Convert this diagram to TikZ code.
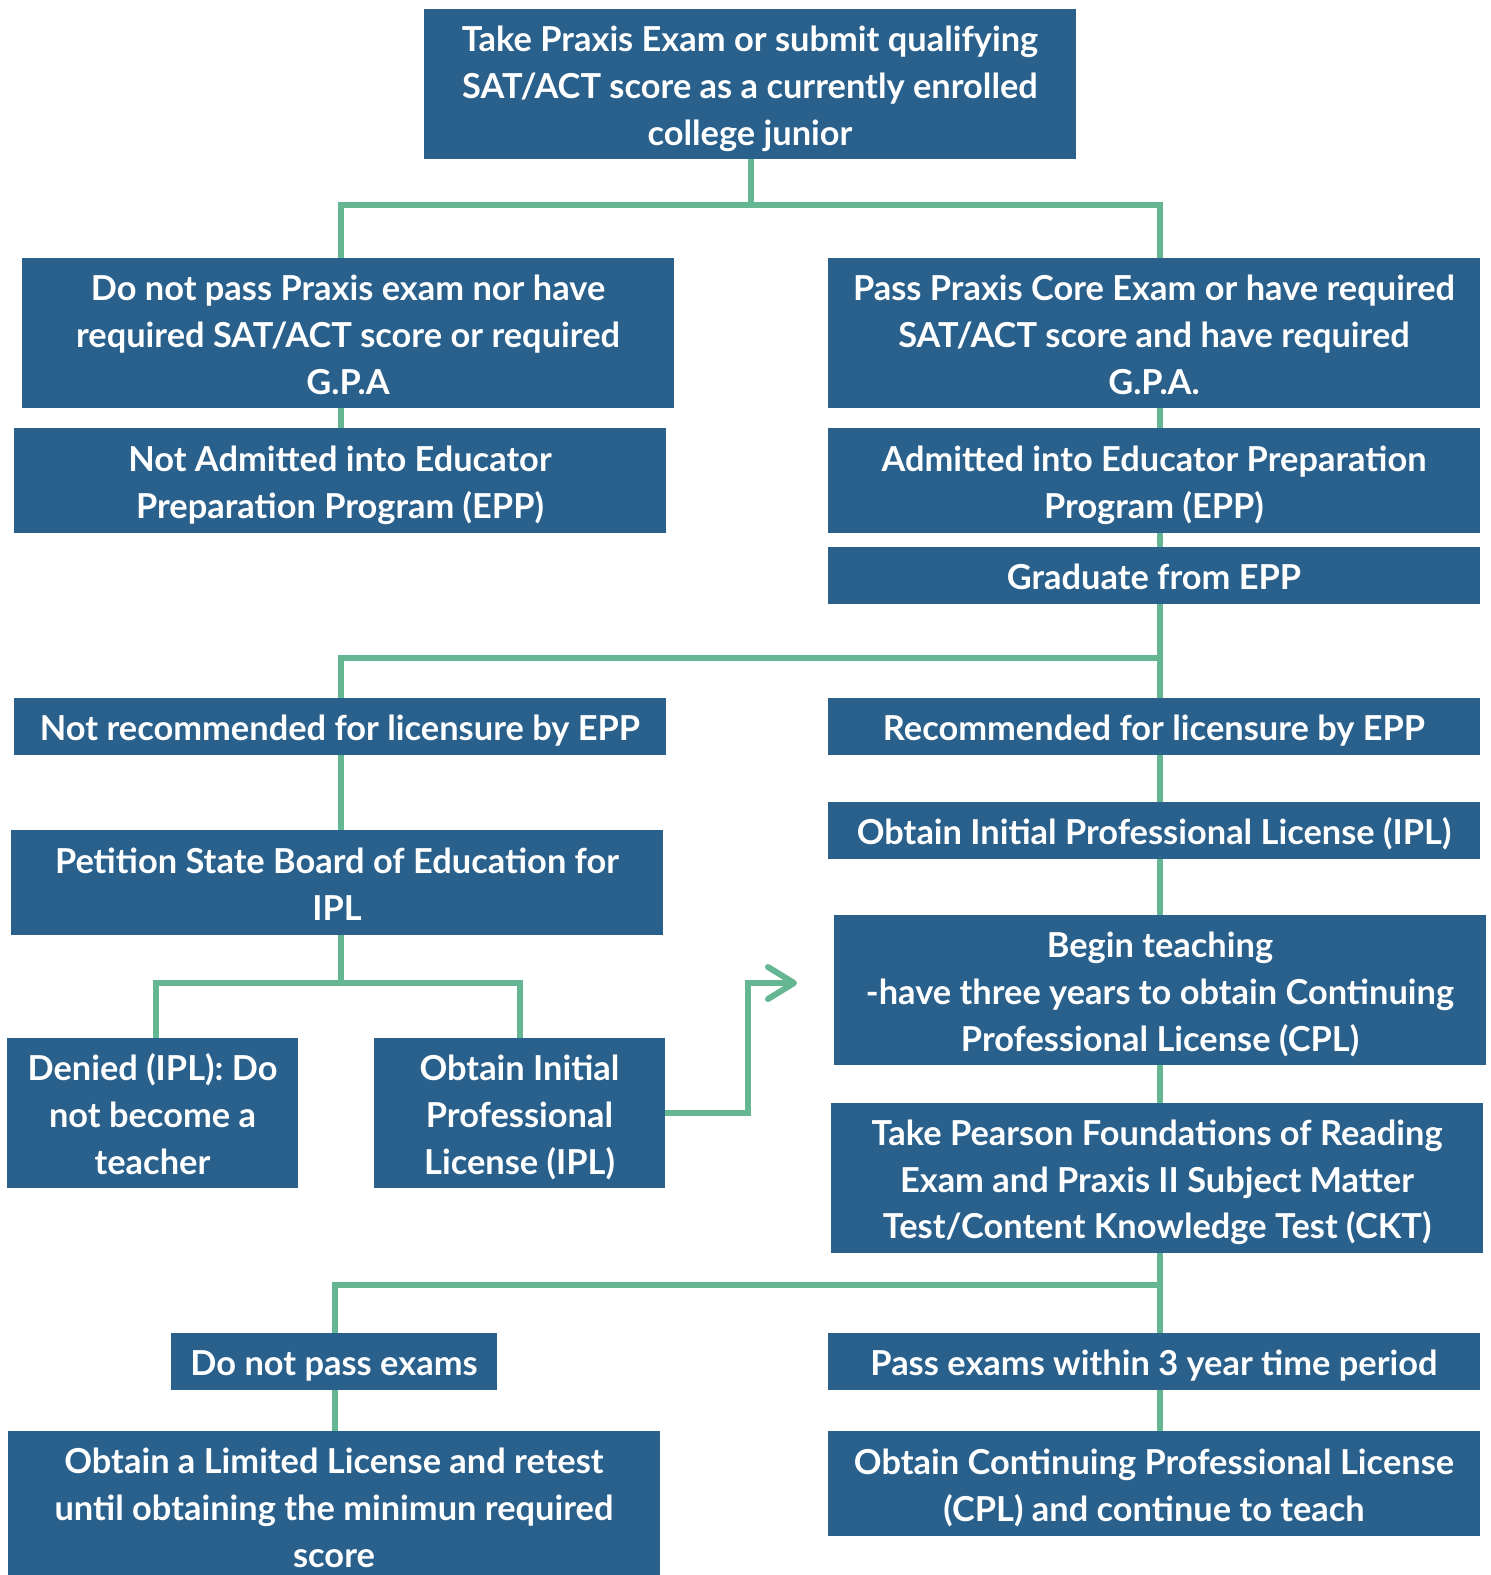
\documentclass[tikz,border=0pt]{standalone}
\usepackage{fontspec}
\setmainfont{Lato}
\usetikzlibrary{arrows.meta}
\definecolor{boxblue}{HTML}{29608C}
\definecolor{lnkgreen}{HTML}{64B792}
\tikzset{
  box/.style={fill=boxblue, draw=none, inner sep=0pt, text=white, align=center,
    font={\fontsize{17.2pt}{23.4pt}\selectfont\bfseries}},
  conn/.style={draw=lnkgreen, line width=3pt},
  arrowtip/.style={-{Straight Barb[length=13pt, width=16pt, line cap=round, line join=round]}}
}
\newcommand\firststrut{\rule{0pt}{18.7pt}}
\newcommand\laststrut{\rule[-4.3pt]{0pt}{0pt}}
% \mkbox{name}{x1}{y1}{x2}{y2}{text}  (pixel coordinates, 1px = 0.5pt)
\newcommand\mkbox[6]{%
  \node[box, minimum width={(#4-#2)*0.5pt}, minimum height={(#5-#3)*0.5pt}]
    (#1) at ({(#2+#4)/2},{(#3+#5)/2}) {\firststrut#6\laststrut};}
\begin{document}
\begin{tikzpicture}[x=0.5pt, y=-0.5pt]
\useasboundingbox (0,0) rectangle (1491,1575);
\clip (0,0) rectangle (1491,1575);
% boxes
\mkbox{top}{424}{9}{1076}{159}{Take Praxis Exam or submit qualifying\\SAT/ACT score as a currently enrolled\\college junior}
\mkbox{l1}{22}{258}{674}{408}{Do not pass Praxis exam nor have\\required SAT/ACT score or required\\G.P.A}
\mkbox{r1}{828}{258}{1480}{408}{Pass Praxis Core Exam or have required\\SAT/ACT score and have required\\G.P.A.}
\mkbox{l2}{14}{428}{666}{532.7}{Not Admitted into Educator\\Preparation Program (EPP)}
\mkbox{r2}{828}{428}{1480}{532.7}{Admitted into Educator Preparation\\Program (EPP)}
\mkbox{grad}{828}{547}{1480}{603.5}{Graduate from EPP}
\mkbox{notrec}{14}{698}{666}{754.7}{Not recommended for licensure by EPP}
\mkbox{rec}{828}{698}{1480}{754.7}{Recommended for licensure by EPP}
\mkbox{ipl}{828}{802}{1480}{859}{Obtain Initial Professional License (IPL)}
\mkbox{pet}{11}{830}{663}{934.5}{Petition State Board of Education for\\IPL}
\mkbox{begin}{834}{915}{1486}{1064.6}{Begin teaching\\-have three years to obtain Continuing\\Professional License (CPL)}
\mkbox{denied}{7}{1038}{298}{1187.6}{Denied (IPL): Do\\not become a\\teacher}
\mkbox{oil}{374}{1038}{665}{1187.6}{Obtain Initial\\Professional\\License (IPL)}
\mkbox{pear}{831}{1103}{1483}{1252.5}{Take Pearson Foundations of Reading\\Exam and Praxis II Subject Matter\\Test/Content Knowledge Test (CKT)}
\mkbox{dnp}{171}{1333}{497}{1389.5}{Do not pass exams}
\mkbox{pass}{828}{1333}{1480}{1389.5}{Pass exams within 3 year time period}
\mkbox{lim}{8}{1431}{660}{1581}{Obtain a Limited License and retest\\until obtaining the minimun required\\score}
\mkbox{cpl}{828}{1431}{1480}{1536}{Obtain Continuing Professional License\\(CPL) and continue to teach}
% junctions
\coordinate (j1) at (751,205);
\coordinate (j1l) at (340.7,205);
\coordinate (j1r) at (1160,205);
\coordinate (j2l) at (340.7,658);
\coordinate (j2r) at (1160,658);
\coordinate (j3) at (341,983);
\coordinate (j3l) at (156,983);
\coordinate (j3r) at (519.7,983);
\coordinate (a1) at (747.5,1112.7);
\coordinate (a2) at (797,983);
\coordinate (j4) at (1160,1284.5);
\coordinate (j4l) at (334.7,1284.5);
% connectors
\draw[conn] (top.south -| j1) -- (j1);
\draw[conn] (l1.north -| j1l) -- (j1l) -- (j1r) -- (r1.north -| j1r);
\draw[conn] (l1.south -| j1l) -- (l2.north -| j1l);
\draw[conn] (r1.south -| j1r) -- (r2.north -| j1r);
\draw[conn] (r2.south -| j1r) -- (grad.north -| j1r);
\draw[conn] (grad.south -| j2r) -- (j2r);
\draw[conn] (notrec.north -| j2l) -- (j2l) -- (j2r) -- (rec.north -| j2r);
\draw[conn] (notrec.south -| j2l) -- (pet.north -| j2l);
\draw[conn] (rec.south -| j2r) -- (ipl.north -| j2r);
\draw[conn] (ipl.south -| j2r) -- (begin.north -| j2r);
\draw[conn] (begin.south -| j2r) -- (pear.north -| j2r);
\draw[conn] (pet.south -| j3) -- (j3);
\draw[conn] (denied.north -| j3l) -- (j3l) -- (j3r) -- (oil.north -| j3r);
\draw[conn, arrowtip] (oil.east |- a1) -- (a1) |- (a2);
\draw[conn] (pear.south -| j4) -- (j4);
\draw[conn] (dnp.north -| j4l) -- (j4l) -- (j4) -- (pass.north -| j4);
\draw[conn] (dnp.south -| j4l) -- (lim.north -| j4l);
\draw[conn] (pass.south -| j4) -- (cpl.north -| j4);
\end{tikzpicture}
\end{document}
